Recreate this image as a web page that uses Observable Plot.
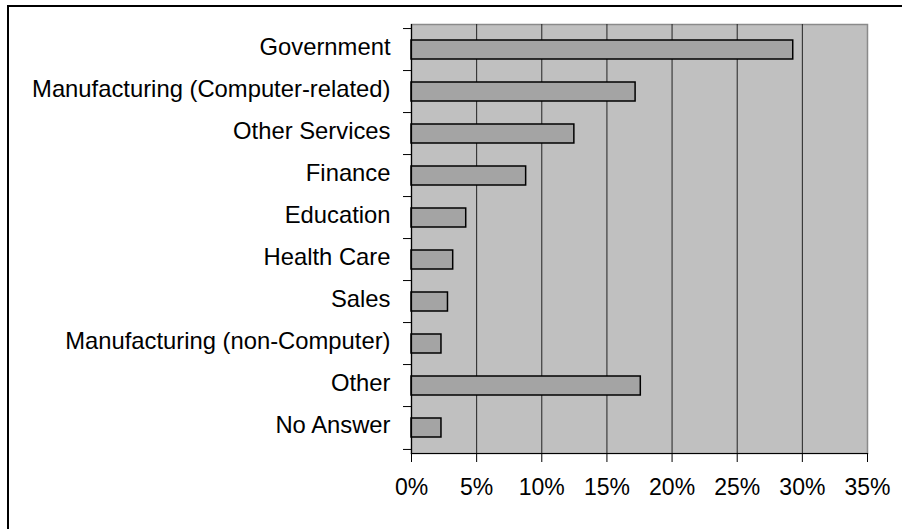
<!DOCTYPE html>
<html><head><meta charset="utf-8">
<script src="https://cdn.jsdelivr.net/npm/d3@7"></script>
<script src="https://cdn.jsdelivr.net/npm/@observablehq/plot@0.6"></script>
<style>
body{margin:0;background:#fff;}
#wrap{position:relative;width:902px;height:529px;overflow:hidden;background:#fff;}
#border{position:absolute;left:7px;top:5px;width:1000px;height:1000px;border:2px solid #000;box-sizing:border-box;}
#chart{position:absolute;left:0;top:0;}
</style></head><body>
<div id="wrap"><div id="border"></div><div id="chart"></div></div>
<script>
const categories = ["Government","Manufacturing (Computer-related)","Other Services","Finance","Education","Health Care","Sales","Manufacturing (non-Computer)","Other","No Answer"];
const values = [29.3,17.2,12.5,8.8,4.2,3.2,2.8,2.3,17.6,2.3];
const xTicks = [0,5,10,15,20,25,30,35];
const data = categories.map((c,i)=>({category:c, value:values[i]}));
const W=902,H=529, mL=411, mR=35, mT=24, mB=76;
const step = (H-mT-mB)/categories.length;
const font = "'Liberation Sans', Arial, Helvetica, sans-serif";
const chart = Plot.plot({
  width:W,height:H,marginLeft:mL,marginRight:mR,marginTop:mT,marginBottom:mB,
  style:{fontFamily:font, fontSize:"23px", color:"#000", background:"transparent", overflow:"visible"},
  x:{domain:[0,35]},
  y:{domain:categories, paddingInner:0.55, paddingOuter:0.275},
  marks:[
    Plot.frame({fill:"#c0c0c0", stroke:"#8a8a8a", strokeWidth:1.5}),
    Plot.ruleX(xTicks.slice(1,-1), {stroke:"#222", strokeWidth:1}),
    Plot.barX(data,{x:"value", y:"category", fill:"#a4a4a4", stroke:"#000", strokeWidth:1.5}),
    Plot.frame({anchor:"left", stroke:"#000", strokeWidth:1.2}),
    Plot.frame({anchor:"bottom", stroke:"#000", strokeWidth:1.2}),
    Plot.axisX({ticks:xTicks, tickFormat:d=>d+"%", tickSize:9, tickPadding:16, label:null, fontSize:23, stroke:"#000"}),
    Plot.axisY({tickSize:0, tickPadding:21, label:null, fontSize:23.8, dy:-2.5}),
    Plot.axisY({tickSize:8, tickFormat:()=>"", dy:-step/2, label:null, stroke:"#000"}),
    Plot.axisY([categories[categories.length-1]], {tickSize:8, tickFormat:()=>"", dy:step/2, label:null, stroke:"#000"})
  ]
});
document.getElementById("chart").appendChild(chart);
</script>
</body></html>
